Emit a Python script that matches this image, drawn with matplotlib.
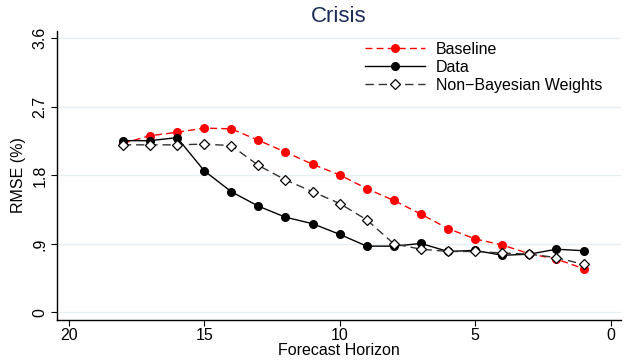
import numpy as np
import matplotlib.pyplot as plt

plt.rcParams['font.family'] = ['Liberation Sans', 'DejaVu Sans']

# Forecast horizons and RMSE values (%)
horizon = [18, 17, 16, 15, 14, 13, 12, 11, 10, 9, 8, 7, 6, 5, 4, 3, 2, 1]
baseline = [2.22, 2.32, 2.365, 2.42, 2.41, 2.26, 2.105, 1.945, 1.805, 1.625, 1.47, 1.29,
            1.10, 0.965, 0.885, 0.77, 0.70, 0.575]
data = [2.255, 2.255, 2.295, 1.86, 1.585, 1.395, 1.25, 1.165, 1.025, 0.87, 0.87, 0.905,
        0.80, 0.815, 0.75, 0.765, 0.83, 0.81]
non_bayes = [2.20, 2.20, 2.20, 2.21, 2.19, 1.93, 1.74, 1.585, 1.43, 1.215, 0.90, 0.83,
             0.80, 0.80, 0.78, 0.765, 0.72, 0.63]

yticks = [0, 0.9, 1.8, 2.7, 3.6]
ytick_labels = ['0', '.9', '1.8', '2.7', '3.6']
xticks = [20, 15, 10, 5, 0]

fig = plt.figure(figsize=(6.27, 3.6), dpi=100)
ax = fig.add_axes([0.0914, 0.111, 0.899, 0.804])

ax.plot(horizon, baseline, color='red', linestyle=(0, (5, 3)), linewidth=1,
        marker='o', markersize=5.5, label='Baseline', zorder=3)
ax.plot(horizon, data, color='black', linestyle='-', linewidth=1,
        marker='o', markersize=5.5, label='Data', zorder=4)
ax.plot(horizon, non_bayes, color='#333333', linestyle=(0, (6, 3.5)), linewidth=1,
        marker='D', markersize=5, markerfacecolor='white', markeredgecolor='black',
        markeredgewidth=0.9, label='Non\u2212Bayesian Weights', zorder=5)

ax.set_xlim(20.42, -0.38)
ax.set_ylim(-0.10, 3.70)
ax.set_xticks(xticks)
ax.set_yticks(yticks)
ax.set_yticklabels(ytick_labels, rotation=90, va='center')
ax.tick_params(axis='both', labelsize=11.5, length=4, width=0.8, color='black')
ax.tick_params(axis='y', pad=3)
ax.tick_params(axis='x', pad=2)
ax.grid(axis='y', color='#e6eef1', linewidth=1)
ax.set_axisbelow(True)
for s in ['top', 'right']:
    ax.spines[s].set_visible(False)
ax.spines['left'].set_linewidth(1)
ax.spines['bottom'].set_linewidth(1)

ax.set_xlabel('Forecast Horizon', fontsize=11.5, labelpad=0)
ax.set_ylabel('RMSE (%)', fontsize=11.5, labelpad=5)
ax.set_title('Crisis', fontsize=16, color='#1c2d57', pad=6)

ax.legend(loc='upper right', bbox_to_anchor=(0.984, 0.995), frameon=False, fontsize=11.5,
          handlelength=3.75, handletextpad=0.7, labelspacing=0.2, borderaxespad=0.2)

fig.savefig('out.png', dpi=100)
